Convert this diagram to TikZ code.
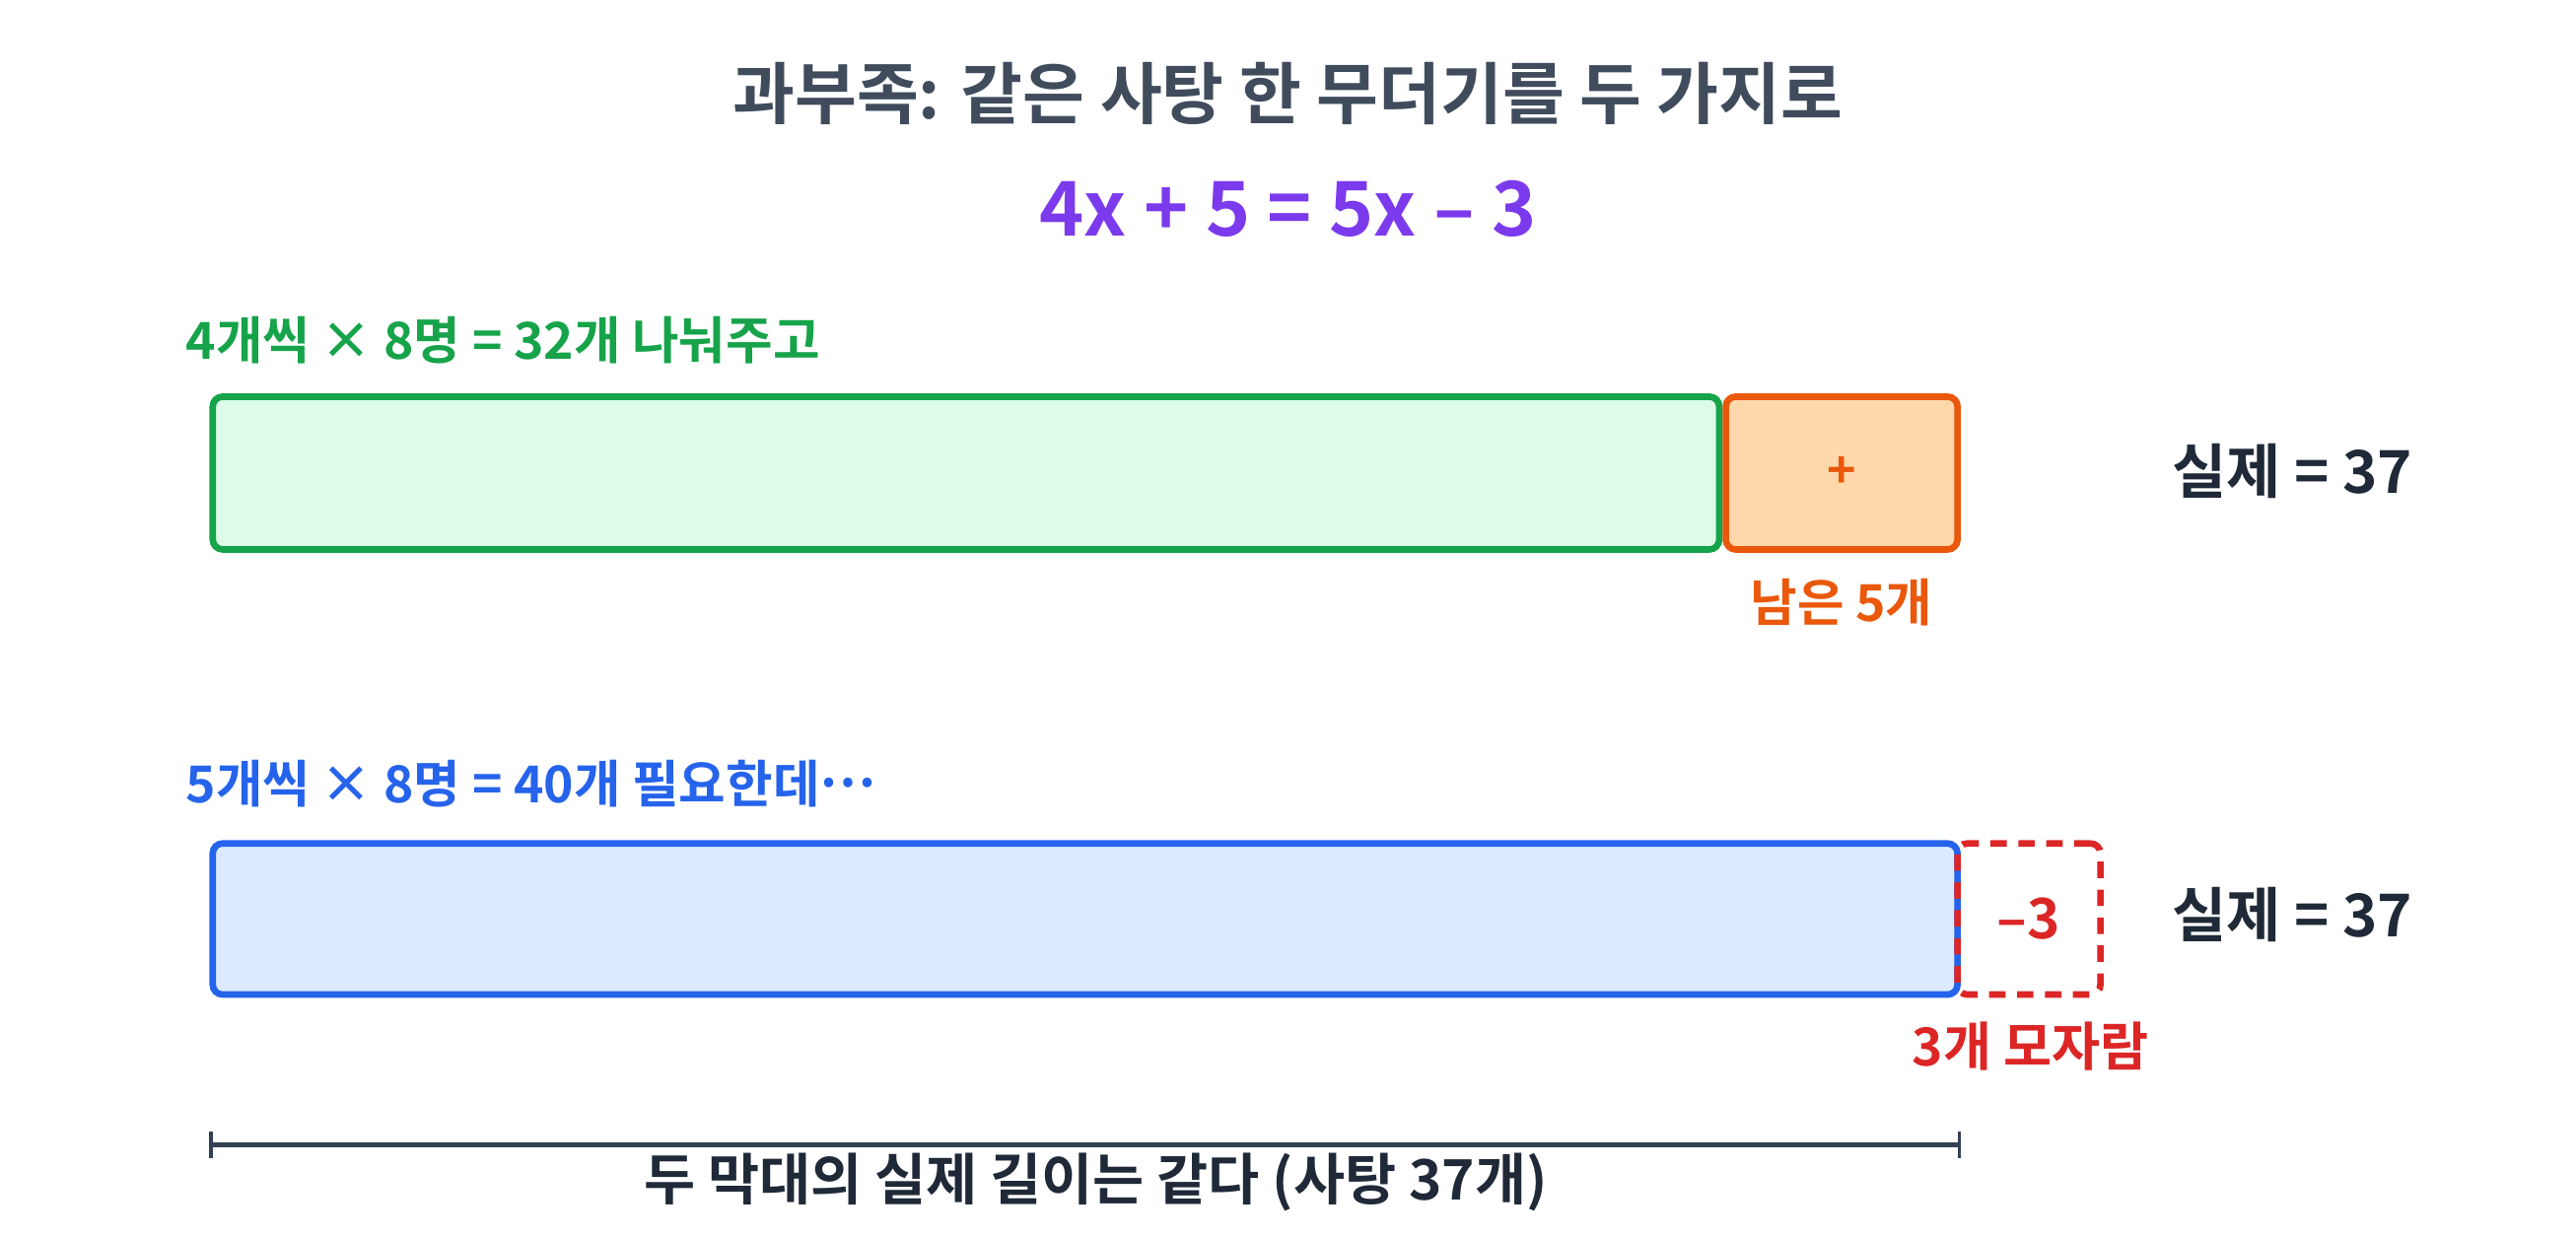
\documentclass[tikz,border=0pt]{standalone}
\usepackage{fontspec}
\setmainfont{Noto Sans CJK KR Bold}
\definecolor{titlec}{HTML}{404B5C}
\definecolor{eqc}{HTML}{7C3AED}
\definecolor{grn}{HTML}{16A34A}
\definecolor{grnfill}{HTML}{DCFCE7}
\definecolor{org}{HTML}{EA580C}
\definecolor{orgfill}{HTML}{FED7AA}
\definecolor{blu}{HTML}{2563EB}
\definecolor{blufill}{HTML}{DBEAFE}
\definecolor{redc}{HTML}{DC2626}
\definecolor{darkc}{HTML}{1F2937}
\definecolor{brc}{HTML}{334155}
\begin{document}
\begin{tikzpicture}[x=1pt,y=-1pt,
  bar/.style={draw, line width=4pt, rounded corners=6pt, inner sep=0pt, outer sep=0pt, anchor=north west},
  lbl/.style={inner sep=0pt, font=\fontsize{31}{36}\selectfont},
  realc/.style={inner sep=0pt, anchor=west, text=darkc, font=\fontsize{36}{40}\selectfont},
]
\useasboundingbox (0,0) rectangle (1568,752);
\node[inner sep=0pt, text=titlec, font=\fontsize{41}{45}\selectfont] (title) at (784,57) {과부족: 같은 사탕 한 무더기를 두 가지로};
\node[inner sep=0pt, text=eqc, font=\fontsize{46}{50}\selectfont] (eq) at (784,127) {4x + 5 = 5x – 3};

% top bar
\node[lbl, anchor=west, text=grn] (glabel) at (113,207) {4개씩 × 8명 = 32개 나눠주고};
\node[bar, draw=grn, fill=grnfill, minimum width=917pt, minimum height=93pt] (gbar) at (129.5,241.5) {};
\node[bar, draw=org, fill=orgfill, minimum width=141pt, minimum height=93pt] (obox) at (1050.5,241.5) {};
\node[inner sep=0pt, text=org, font=\fontsize{30}{32}\selectfont] (plus) at (obox.center) {+};
\node[lbl, text=org, font=\fontsize{31}{34}\selectfont] (left5) at (1121,367) {남은 5개};
\node[realc] (real1) at (1322,287) {실제 = 37};

% bottom bar
\node[lbl, anchor=west, text=blu] (blabel) at (113,477) {5개씩 × 8명 = 40개 필요한데\raisebox{0.3em}{⋯}};
\node[bar, draw=blu, fill=blufill, minimum width=1062pt, minimum height=92pt] (bbar) at (129.5,513.5) {};
\node[bar, draw=redc, dash pattern=on 10pt off 7pt, minimum width=87pt, minimum height=92pt] (rbox) at (1191.5,513.5) {};
\node[inner sep=0pt, text=redc, font=\fontsize{34}{38}\selectfont] (minus3) at (rbox.center) {–3};
\node[lbl, text=redc, font=\fontsize{32}{36}\selectfont] (short3) at (1236,637) {3개 모자람};
\node[realc] (real2) at (1322,557) {실제 = 37};

% bracket
\coordinate (bl) at (128.5,697);
\coordinate (br) at (1192.5,697);
\draw[brc, line width=2.5pt] (bl) -- (br);
\draw[brc, line width=2pt] ([yshift=8pt]bl) -- ([yshift=-8pt]bl);
\draw[brc, line width=2pt] ([yshift=8pt]br) -- ([yshift=-8pt]br);
\node[lbl, text=darkc, font=\fontsize{34}{38}\selectfont] (same) at (667,720) {두 막대의 실제 길이는 같다 (사탕 37개)};
\end{tikzpicture}
\end{document}
